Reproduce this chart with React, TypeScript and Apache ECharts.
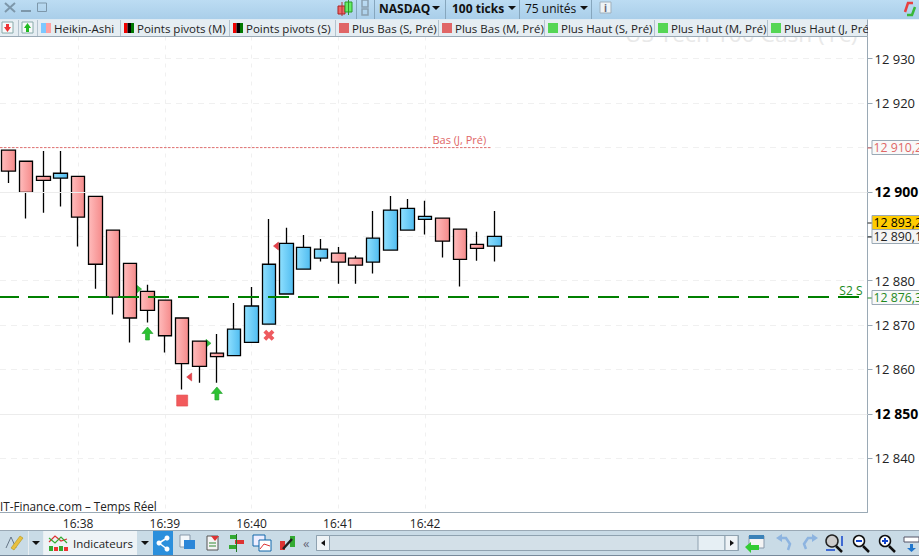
import React, { useEffect, useRef } from "react";
import * as echarts from "echarts";

const timeLabels: Record<number, string> = { 4: "16:38", 9: "16:39", 14: "16:40", 19: "16:41", 24: "16:42" };
const categories = Array.from({ length: 50 }, (_, i) => timeLabels[i] ?? `c${i}`);
const opens = [12909.4,12906.9,12903.5,12903.1,12903.5,12899.0,12891.4,12883.9,12877.6,12875.6,12871.6,12866.4,12863.7,12863.1,12866.1,12870.2,12877.0,12882.6,12885.1,12886.2,12885.1,12884.2,12886.9,12891.4,12893.8,12894.1,12891.6,12888.2,12887.8];
const closes = [12904.7,12899.9,12902.6,12904.2,12894.3,12883.7,12876.3,12871.6,12873.3,12867.6,12861.3,12860.7,12862.9,12869.1,12874.3,12883.7,12888.4,12887.5,12887.1,12884.2,12883.5,12889.6,12895.9,12896.3,12894.5,12888.9,12884.8,12887.3,12890.0];
const lows = [12902.0,12894.0,12895.3,12896.7,12887.7,12878.2,12872.4,12866.1,12870.6,12863.8,12855.5,12857.0,12857.0,12863.1,12866.1,12870.2,12877.0,12882.6,12884.3,12879.3,12879.3,12881.6,12886.9,12891.4,12890.4,12885.2,12878.7,12884.5,12884.3];
const highs = [12909.4,12906.9,12909.2,12909.2,12903.5,12899.0,12891.4,12883.9,12879.1,12875.6,12871.6,12866.4,12868.0,12875.0,12878.6,12893.9,12891.9,12890.3,12889.4,12887.6,12885.6,12895.7,12899.1,12898.4,12898.0,12894.1,12891.6,12891.0,12895.7];
const axisTicks = [12930,12920,12910,12900,12890,12880,12870,12860,12850,12840];
const axisLabelValues = [12930,12920,12900,12880,12870,12860,12850,12840];
const majorLevels = [12900, 12850];
const tagValues = [12910.2, 12893.2, 12890.1, 12876.3];
const tagTexts = ["12 910,2", "12 893,2", "12 890,1", "12 876,3"];
const lowDayLevel = 12910.2;
const s2Level = 12876.3;
const arrowPoints = [[8, 12868.1], [12, 12854.6]];
const crossPoints = [[15, 12867.7]];
const squarePoints = [[10, 12853.0]];
const greenFlagPoints = [[7, 12878.1], [11, 12865.9]];
const redFlagPoints = [[10, 12858.3], [15, 12887.8]];
const legendNames = ["Heikin-Ashi","Points pivots (M)","Points pivots (S)","Plus Bas (S, Pré)","Plus Bas (M, Pré)","Plus Haut (S, Pré)","Plus Haut (M, Pré)","Plus Haut (J, Pré)"];
const legendStarts = [41,124,233,339,442,548,658,771];
const legendSeps = [18,37,120,229,335,438,544,654,767];

const FONT = "'Open Sans', sans-serif";
const FRAME = "#9aa9b5";
const rect = (x: number, y: number, w: number, h: number, fill: any, extra: any = {}) => ({ type: "rect", shape: { x, y, width: w, height: h }, style: { fill, ...extra }, z: 100 });
const txt = (x: number, y: number, text: string, size = 12, extra: any = {}) => ({ type: "text", x, y, style: { text, fontFamily: FONT, fontSize: size, fill: "#111", textVerticalAlign: "middle", ...extra }, z: 101 });
const line = (x1: number, y1: number, x2: number, y2: number, stroke: string, lineWidth = 1) => ({ type: "line", shape: { x1, y1, x2, y2 }, style: { stroke, lineWidth }, z: 101 });
const poly = (points: number[][], fill: string, extra: any = {}) => ({ type: "polygon", shape: { points }, style: { fill, ...extra }, z: 101 });
const pline = (points: number[][], stroke: string, lineWidth = 1.5) => ({ type: "polyline", shape: { points }, style: { stroke, lineWidth, fill: "none" }, z: 101 });
const circ = (cx: number, cy: number, r: number, fill: string, extra: any = {}) => ({ type: "circle", shape: { cx, cy, r }, style: { fill, ...extra }, z: 101 });
const caret = (x: number, y: number) => poly([[x - 4, y - 2], [x + 4, y - 2], [x, y + 2]], "#111");
const grad = (a: string, b: string) => new echarts.graphic.LinearGradient(0, 0, 0, 1, [{ offset: 0, color: a }, { offset: 1, color: b }]);

function chrome(): any[] {
  const e: any[] = [];
  e.push({ type: "text", x: 625, y: 21.5, style: { text: "US Tech 100 Cash (1€)", fontFamily: FONT, fontSize: 22.7, fill: "#e9e9e9" }, z: 2 });
  // top bar
  e.push(rect(0, 0, 919, 19.5, grad("#bcdcf3", "#a9cee9")));
  e.push(rect(0, 19.5, 867.5, 17, "#e5edf2"));
  e.push(line(0, 36.5, 867.5, 36.5, FRAME, 1));
  e.push(line(867.5, 19.5, 867.5, 36.5, FRAME, 1));
  e.push(line(5, 3, 15, 12, "#7d97aa", 2), line(15, 3, 5, 12, "#7d97aa", 2));
  e.push(line(21, 11, 31, 11, "#7d97aa", 2));
  e.push(rect(37.5, 3, 9, 8.5, "none", { stroke: "#7d97aa", lineWidth: 1 }));
  e.push(line(342, 2, 342, 16, "#b03030"), rect(338, 6, 7, 8, "#e66", { stroke: "#a22" }));
  e.push(line(348.5, 0, 348.5, 15, "#2a9a2a"), rect(345, 2, 7, 10, "#6e6", { stroke: "#2a9a2a" }));
  [356, 374, 445, 519, 591].forEach((x) => e.push(line(x + 0.5, 0, x + 0.5, 19, "#86a6bd")));
  e.push(rect(362, 0, 6, 7, "none", { stroke: "#8aa0b0", lineWidth: 1.5 }), rect(362, 9, 6, 6, "none", { stroke: "#8aa0b0", lineWidth: 1.5 }));
  e.push(txt(379, 8, "NASDAQ", 12, { fontWeight: "bold" }), caret(436, 8));
  e.push(txt(452, 8, "100 ticks", 12, { fontWeight: "bold" }), caret(512, 8));
  e.push(txt(525, 8, "75 unités", 12), caret(584, 8));
  e.push(rect(600, 2, 11, 11, "#eef3f6", { stroke: "#9fb0bd" }), txt(605.5, 8, "i", 10, { textAlign: "center", fill: "#667", fontWeight: "bold" }));
  e.push(pline([[905, 12], [908, 3], [913, 3]], "#e84040", 2.5), pline([[915, 7], [912, 15], [907, 15]], "#38b838", 2.5));
  // legend strip
  legendSeps.forEach((x) => e.push(line(x + 0.5, 20, x + 0.5, 36, "#b4c3ce")));
  e.push(rect(2, 22, 11, 11, "#f7f9fa", { stroke: "#8aa" }), poly([[4, 27], [11, 27], [7.5, 32]], "#e33"), rect(6, 24, 3, 3, "#e33"));
  e.push(rect(22, 22, 11, 11, "#f7f9fa", { stroke: "#8aa" }), poly([[24, 28], [31, 28], [27.5, 23]], "#2b2"), rect(26, 28, 3, 4, "#2b2"));
  legendNames.forEach((n, i) => {
    const x = legendStarts[i];
    if (i === 0) { e.push(rect(x, 23, 5, 10, "#7cc8ff"), rect(x + 5, 23, 5, 10, "#ffa0a0")); }
    else if (i < 3) { e.push(rect(x, 23, 3.5, 10, "#f00000"), rect(x + 3.5, 23, 3.5, 10, "#000"), rect(x + 7, 23, 3, 10, "#007a00")); }
    else { e.push(rect(x, 23, 10, 10, i < 5 ? "#e06666" : "#55d655")); }
    e.push(txt(x + 13, 28, n, 11.5, { fill: "#222" }));
  });
  e.push({ ...rect(868, 19.5, 51, 17, "#fff"), z: 102 });
  // footer
  e.push(txt(0, 506, "IT-Finance.com – Temps Réel", 11.7, { fill: "#222" }));
  e.push(rect(0, 530, 919, 26, "#c9dbe6"), line(0, 530.5, 919, 530.5, FRAME), line(0, 555.5, 919, 555.5, "#77899a"));
  // pencil
  e.push(pline([[6, 548], [11, 537], [16, 548]], "#678", 1), poly([[11, 548], [20, 536], [23, 538], [14, 550]], "#e8c040", { stroke: "#a80", lineWidth: 0.5 }));
  e.push(line(28.5, 531, 28.5, 555, "#e8eef2"), caret(36, 543), line(43.5, 531, 43.5, 555, "#e8eef2"));
  e.push(rect(44, 531, 93, 24, "#eef3f6"));
  e.push(pline([[49, 542], [55, 536], [61, 541], [67, 539]], "#d33", 1.2), pline([[49, 538], [55, 543], [61, 537], [67, 543]], "#3a3", 1.2));
  [50, 55, 60, 65].forEach((x, i) => e.push(rect(x - 1, 546 + (i % 2), 4, 5 - (i % 2), i % 2 ? "#e33" : "#3a3")));
  e.push(txt(73, 543, "Indicateurs", 11.5, { fill: "#222" }), caret(145, 543));
  e.push(rect(153, 531, 20, 24, "#2b8fdc"));
  e.push(line(167, 538, 159, 543, "#fff", 1.5), line(159, 543, 167, 549, "#fff", 1.5), circ(167, 538, 2.5, "#fff"), circ(159, 543, 2.5, "#fff"), circ(167, 549, 2.5, "#fff"));
  e.push(rect(180, 535, 10, 12, "#f4f8fb", { stroke: "#89a" }), rect(184, 540, 11, 9, "#2b86d8", { r: 2 }));
  e.push(rect(207, 536, 11, 14, "#f4f4f4", { stroke: "#555" }), poly([[211, 536], [219, 536], [215, 541]], "#d33"), line(209, 543, 216, 543, "#383"), line(209, 546, 216, 546, "#383"));
  e.push(rect(230, 535, 7, 4, "#3a3"), rect(235, 540, 9, 4, "#d33"), rect(229, 545, 8, 4, "#3a3"), line(236.5, 534, 236.5, 552, "#272"));
  e.push(rect(253, 535, 12, 11, "#eef", { stroke: "#16a" }), rect(259, 540, 12, 11, "#fff", { stroke: "#16a" }), pline([[260, 549], [264, 544], [270, 546]], "#d33", 1));
  e.push(rect(280, 541, 5, 9, "#d33"), rect(290, 536, 5, 11, "#3a3"), line(283, 549, 292, 539, "#222", 2.5));
  e.push(txt(303, 543, "«", 13, { fill: "#667" }));
  e.push(rect(316.5, 535.5, 422, 15, "#d3e0e8", { stroke: "#8fa2b0", r: 2 }));
  e.push(rect(316.5, 535.5, 13, 15, "#eef3f6", { stroke: "#8fa2b0" }), poly([[325, 540], [325, 546], [321, 543]], "#111"));
  e.push(rect(698, 535.5, 27, 15, "#e6eff4", { stroke: "#8fa2b0" }));
  e.push(rect(725, 535.5, 13, 15, "#eef3f6", { stroke: "#8fa2b0" }), poly([[730, 540], [730, 546], [734, 543]], "#111"));
  e.push(rect(749, 536, 15, 12, "#f4f4f4", { stroke: "#89a" }), rect(749, 535, 15, 4, "#3b82b8"), poly([[745, 547], [751, 542], [751, 545], [759, 545], [759, 550], [751, 550], [751, 553]], "#3c3"));
  e.push(pline([[779, 538], [786, 538], [790, 544], [788, 550]], "#8db4e0", 2.5), poly([[776, 538], [782, 534], [782, 542]], "#8db4e0"));
  e.push(pline([[815, 538], [808, 538], [804, 544], [806, 549]], "#8db4e0", 2.5), poly([[818, 538], [812, 534], [812, 542]], "#8db4e0"));
  e.push(circ(832, 541, 6, "#ccc", { stroke: "#222", lineWidth: 1.5 }), line(836, 546, 842, 552, "#111", 2.5), line(842, 536, 842, 546, "#14c", 1.5), line(826, 550, 835, 550, "#14c", 1.5));
  e.push(circ(859, 541, 5.5, "#fff", { stroke: "#111", lineWidth: 1.5 }), line(856, 541, 862, 541, "#14c", 2), line(863, 546, 869, 552, "#111", 2.5));
  e.push(circ(885, 541, 5.5, "#fff", { stroke: "#111", lineWidth: 1.5 }), line(882, 541, 888, 541, "#14c", 2), line(885, 538, 885, 544, "#14c", 2), line(889, 546, 895, 552, "#111", 2.5));
  e.push(rect(904, 537, 15, 5, "#fff", { stroke: "#556" }), rect(910, 544, 3, 4, "#27c"), poly([[907, 548], [916, 548], [911.5, 552]], "#27c"));
  return e;
}

const arrowPath = "path://M5.5 0L11 6.5H7.5V13H3.5V6.5H0Z";
const crossPath = "path://M2.5 0L5 2.5L7.5 0L10 2.5L7.5 5L10 7.5L7.5 10L5 7.5L2.5 10L0 7.5L2.5 5L0 2.5Z";
const flagRight = "path://M0 0L5 4L0 8Z";
const flagLeft = "path://M5 0L0 4L5 8Z";

export default function App() {
  const ref = useRef<HTMLDivElement>(null);
  useEffect(() => {
    const chart = echarts.init(ref.current!, undefined, { renderer: "svg" });
    const hGrad = (a: string, b: string) => new echarts.graphic.LinearGradient(0, 0, 1, 0, [{ offset: 0, color: a }, { offset: 1, color: b }]);
    const showTick = (i: number) => i in timeLabels;
    chart.setOption({
      animation: false,
      backgroundColor: "#fff",
      grid: { left: 0, top: 36.5, width: 867.5, height: 475.5, outerBoundsMode: "none" },
      xAxis: {
        type: "category",
        data: categories,
        axisLine: { lineStyle: { color: FRAME, width: 1 } },
        axisTick: { alignWithLabel: true, interval: (i: number) => showTick(i), length: 4, lineStyle: { color: FRAME } },
        axisLabel: { interval: (i: number) => showTick(i), formatter: (v: string) => (v.startsWith("c") ? "" : v), fontFamily: FONT, fontSize: 12, color: "#222", margin: 5 },
        splitLine: { show: true, alignWithLabel: true, interval: (i: number) => showTick(i), lineStyle: { color: "#f0f0f0", type: [4, 5], width: 1 } },
      },
      yAxis: {
        type: "value",
        position: "right",
        min: 12827.9,
        max: 12935.0,
        scale: true,
        axisLine: { show: true, lineStyle: { color: FRAME, width: 1 } },
        axisTick: { show: true, length: 5, customValues: axisTicks, lineStyle: { color: FRAME } },
        axisLabel: {
          customValues: axisLabelValues,
          margin: 7,
          formatter: (v: number) => {
            const s = String(Math.round(v)).replace(/^(\d+)(\d{3})$/, "$1 $2");
            return majorLevels.includes(Math.round(v)) ? `{b|${s}}` : `{n|${s}}`;
          },
          rich: {
            n: { fontFamily: FONT, fontSize: 13, color: "#222" },
            b: { fontFamily: FONT, fontSize: 14, fontWeight: "bold", color: "#000" },
          },
        },
        splitLine: { show: true, lineStyle: { color: "#f0f0f0", type: [6, 5], width: 1 } },
      },
      series: [
        {
          type: "line",
          data: [],
          z: 1,
          silent: true,
          markLine: {
            silent: true, symbol: "none", animation: false,
            lineStyle: { color: "#ececec", type: "solid", width: 1.2 },
            label: { show: false },
            data: majorLevels.map((v) => ({ yAxis: v })),
          },
        },
        {
          type: "candlestick",
          z: 3,
          barWidth: 14,
          data: opens.map((o, i) => [o, closes[i], lows[i], highs[i]]),
          itemStyle: {
            color: hGrad("#8fe0ff", "#50bcf0"),
            color0: hGrad("#ffbcbc", "#f58a8a"),
            borderColor: "#000",
            borderColor0: "#000",
            borderWidth: 1.3,
          },
        },
        {
          type: "line",
          data: [],
          z: 6,
          silent: true,
          markLine: {
            silent: true, symbol: "none", animation: false,
            lineStyle: { color: "#008000", type: [21, 9], dashOffset: 2, width: 2.2, opacity: 1 },
            label: { show: true, position: "insideEndTop", formatter: "S2 S", color: "#1b8a1b", fontFamily: FONT, fontSize: 12, distance: [5, 1] },
            data: [{ yAxis: s2Level }],
          },
        },
        { type: "scatter", z: 5, data: arrowPoints, symbol: arrowPath, symbolSize: [11, 13], itemStyle: { opacity: 1, color: "#2cc232", borderColor: "#1f9f2a", borderWidth: 0.6 } },
        { type: "scatter", z: 5, data: crossPoints, symbol: crossPath, symbolSize: 11, itemStyle: { opacity: 1, color: "#ee5a5f" } },
        { type: "scatter", z: 5, data: squarePoints, symbol: "rect", symbolSize: 11, itemStyle: { opacity: 1, color: "#f25a5c", borderColor: "#e04a4c", borderWidth: 0.6 } },
        { type: "scatter", z: 2, data: greenFlagPoints, symbol: flagRight, symbolSize: [5, 8], symbolOffset: [9, 0], itemStyle: { opacity: 1, color: "#35c23f", borderColor: "#1f9f2a", borderWidth: 0.5 } },
        { type: "scatter", z: 2, data: redFlagPoints, symbol: flagLeft, symbolSize: [5, 8], symbolOffset: [7, 0], itemStyle: { opacity: 1, color: "#e8424a", borderColor: "#c83036", borderWidth: 0.5 } },
        {
          type: "custom",
          z: 4,
          clip: false,
          silent: true,
          data: [[lowDayLevel, 0]],
          renderItem: (params: any, api: any) => {
            const y = api.coord([0, api.value(0)])[1];
            const xEnd = api.coord([28, api.value(0)])[0];
            const left = params.coordSys.x;
            return {
              type: "group",
              children: [
                { type: "line", shape: { x1: left, y1: y + 1, x2: xEnd - 3, y2: y + 1 }, style: { stroke: "#e07070", lineWidth: 1, lineDash: [2.5, 1.5] } },
                { type: "text", x: xEnd - 62, y: y - 7, style: { text: "Bas (J, Pré)", fontFamily: FONT, fontSize: 11, fill: "#e06666", textVerticalAlign: "middle" } },
              ],
            };
          },
        },
        {
          type: "custom",
          z: 8,
          clip: false,
          silent: true,
          data: tagValues.map((v, i) => [v, i]),
          renderItem: (params: any, api: any) => {
            const i = api.value(1);
            const y = Math.round(api.coord([0, api.value(0)])[1]) + 1;
            const axisX = params.coordSys.x + params.coordSys.width;
            const fills = ["#f9f9f9", "#ffcc00", "#f4f4f4", "#f9f9f9"];
            const colors = ["#e06666", "#000", "#222", "#1f8a1f"];
            return {
              type: "group",
              children: [
                { type: "line", shape: { x1: axisX, y1: y, x2: axisX + 5, y2: y }, style: { stroke: i === 0 ? "#e06666" : i === 3 ? "#1f8a1f" : "#222", lineWidth: 1 } },
                { type: "rect", shape: { x: axisX + 4.5, y: y - 7.5, width: 60, height: 14 }, style: { fill: fills[i], stroke: FRAME, lineWidth: 1 } },
                { type: "text", x: axisX + 6, y: y - 0.5, style: { text: tagTexts[i], fontFamily: FONT, fontSize: 12.3, fill: colors[i], textVerticalAlign: "middle" } },
              ],
            };
          },
        },
      ],
      graphic: { elements: chrome() },
    });
    return () => chart.dispose();
  }, []);
  return <div ref={ref} style={{ position: "absolute", left: 0, top: 0, width: 919, height: 556 }} />;
}
